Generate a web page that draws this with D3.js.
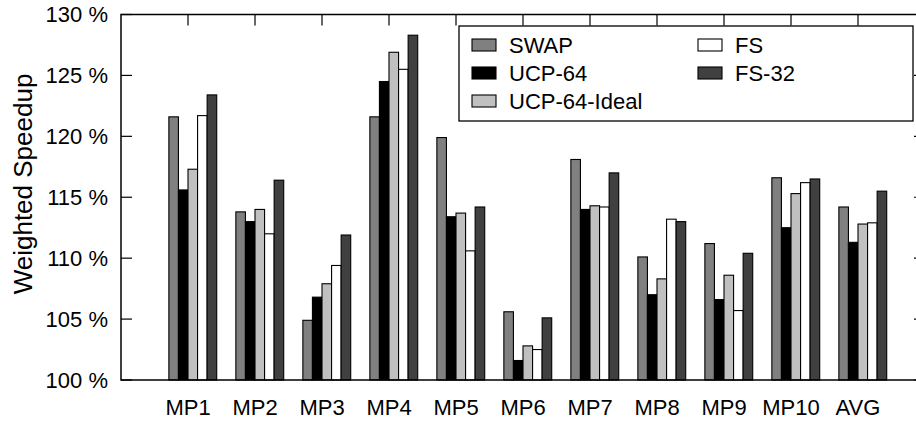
<!DOCTYPE html>
<html>
<head>
<meta charset="utf-8">
<script src="https://cdn.jsdelivr.net/npm/d3@7"></script>
<style>
  body { margin: 0; background: #fff; }
  svg { display: block; font-family: "Liberation Sans", Arial, sans-serif; }
</style>
</head>
<body>
<div id="chart"></div>
<script>
// Weighted speedup per workload, gnuplot-style clustered histogram

const categories = ['MP1', 'MP2', 'MP3', 'MP4', 'MP5', 'MP6', 'MP7', 'MP8', 'MP9', 'MP10', 'AVG'];
const seriesNames = ['SWAP', 'UCP-64', 'UCP-64-Ideal', 'FS', 'FS-32'];
const seriesColors = ['#808080', '#000000', '#c0c0c0', '#ffffff', '#404040'];

const swap       = [121.6, 113.8, 104.9, 121.6, 119.9, 105.6, 118.1, 110.1, 111.2, 116.6, 114.2];
const ucp64      = [115.6, 113.0, 106.8, 124.5, 113.4, 101.6, 114.0, 107.0, 106.6, 112.5, 111.3];
const ucp64Ideal = [117.3, 114.0, 107.9, 126.9, 113.7, 102.8, 114.3, 108.3, 108.6, 115.3, 112.8];
const fs         = [121.7, 112.0, 109.4, 125.5, 110.6, 102.5, 114.2, 113.2, 105.7, 116.2, 112.9];
const fs32       = [123.4, 116.4, 111.9, 128.3, 114.2, 105.1, 117.0, 113.0, 110.4, 116.5, 115.5];

const seriesValues = [swap, ucp64, ucp64Ideal, fs, fs32];
const yTicks = [100, 105, 110, 115, 120, 125, 130];

const width = 916, height = 423;
const plotL = 121, plotR = 925, plotT = 14.5, plotB = 380;
const fontSize = 22;

const svg = d3.select('#chart').append('svg')
  .attr('width', width)
  .attr('height', height);

// x runs in category units, one slot per workload
const x = d3.scaleLinear().domain([-1, categories.length]).range([plotL, plotR]);
const y = d3.scaleLinear().domain([100, 130]).range([plotB, plotT]);
const boxW = 1 / (seriesNames.length + 2);

// ticks (drawn first, bars cover them)
const tickG = svg.append('g').attr('stroke', '#000').attr('stroke-width', 1.2);
yTicks.forEach(t => {
  tickG.append('line').attr('x1', plotL).attr('x2', plotL + 11).attr('y1', y(t)).attr('y2', y(t));
  tickG.append('line').attr('x1', plotR).attr('x2', plotR - 11).attr('y1', y(t)).attr('y2', y(t));
});
categories.forEach((c, i) => {
  tickG.append('line').attr('x1', x(i)).attr('x2', x(i)).attr('y1', plotT).attr('y2', plotT + 11);
  tickG.append('line').attr('x1', x(i)).attr('x2', x(i)).attr('y1', plotB).attr('y2', plotB - 11);
});

// bars
seriesValues.forEach((vals, k) => {
  svg.append('g')
    .selectAll('rect')
    .data(vals)
    .enter()
    .append('rect')
    .attr('x', (d, i) => x(i + (k - 2) * boxW))
    .attr('width', x(boxW) - x(0))
    .attr('y', d => y(d))
    .attr('height', d => y(100) - y(d))
    .attr('fill', seriesColors[k])
    .attr('stroke', '#000')
    .attr('stroke-width', 1.1);
});

// frame
svg.append('rect')
  .attr('x', plotL).attr('y', plotT)
  .attr('width', plotR - plotL).attr('height', plotB - plotT)
  .attr('fill', 'none').attr('stroke', '#000').attr('stroke-width', 1.5);

// y tick labels
svg.append('g')
  .selectAll('text')
  .data(yTicks)
  .enter()
  .append('text')
  .attr('x', 108)
  .attr('y', d => y(d))
  .attr('dy', '0.36em')
  .attr('text-anchor', 'end')
  .attr('font-size', fontSize)
  .text(d => d + ' %');

// category labels
svg.append('g')
  .selectAll('text')
  .data(categories)
  .enter()
  .append('text')
  .attr('x', (d, i) => x(i))
  .attr('y', 415)
  .attr('text-anchor', 'middle')
  .attr('font-size', fontSize)
  .text(d => d);

// y axis title
svg.append('text')
  .attr('transform', 'translate(32,184) rotate(-90)')
  .attr('text-anchor', 'middle')
  .attr('font-size', 26)
  .text('Weighted Speedup');

// legend
const legend = svg.append('g');
legend.append('rect')
  .attr('x', 459).attr('y', 26)
  .attr('width', 454).attr('height', 95)
  .attr('fill', '#fff').attr('stroke', '#000').attr('stroke-width', 1.3);

const legendCols = [472, 698];
const legendRows = [45, 73, 101];
seriesNames.forEach((name, k) => {
  const col = k < 3 ? 0 : 1;
  const row = k < 3 ? k : k - 3;
  const lx = legendCols[col], ly = legendRows[row];
  legend.append('rect')
    .attr('x', lx).attr('y', ly - 6)
    .attr('width', 24).attr('height', 12)
    .attr('fill', seriesColors[k])
    .attr('stroke', '#000').attr('stroke-width', 1.1);
  legend.append('text')
    .attr('x', lx + 37).attr('y', ly)
    .attr('dy', '0.36em')
    .attr('font-size', fontSize)
    .text(name);
});
</script>
</body>
</html>
